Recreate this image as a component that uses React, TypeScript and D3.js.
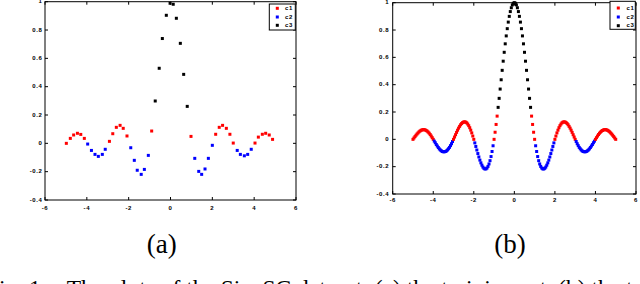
import React from 'react';
import * as d3 from 'd3';

const xTicks = [-6, -4, -2, 0, 2, 4, 6];
const xTickLabels = ['-6', '-4', '-2', '0', '2', '4', '6'];
const yTicks = [-0.4, -0.2, 0, 0.2, 0.4, 0.6, 0.8, 1];
const yTickLabels = ['-0.4', '-0.2', '0', '0.2', '0.4', '0.6', '0.8', '1'];
const classNames = ['c1', 'c2', 'c3'];
const classColors = ['#ff0000', '#0000ff', '#000000'];

// (a) training set
const xA = [-4.98, -4.79, -4.63, -4.45, -4.29, -4.12, -3.96, -3.78, -3.61, -3.45, -3.26, -3.12,
  -2.92, -2.76, -2.59, -2.41, -2.26, -2.08, -1.90, -1.73, -1.59, -1.40, -1.25, -1.06, -0.90,
  -0.73, -0.54, -0.39, -0.20, -0.02, 0.13, 0.28, 0.47, 0.63, 0.80,
  0.98, 1.16, 1.35, 1.49, 1.65, 1.81, 2.00, 2.16, 2.33, 2.49, 2.67, 2.84, 3.00,
  3.19, 3.34, 3.53, 3.69, 3.86, 4.04, 4.20, 4.39, 4.55, 4.72, 4.88];
const yA = [0.0, 0.035, 0.059, 0.071, 0.063, 0.035, -0.005, -0.05, -0.078, -0.092, -0.078, -0.042,
  0.014, 0.068, 0.113, 0.127, 0.106, 0.052, -0.031, -0.12, -0.19, -0.219, -0.184, -0.085, 0.087,
  0.299, 0.53, 0.74, 0.904, 0.989, 0.982, 0.883, 0.706, 0.487, 0.261,
  0.049, -0.106, -0.198, -0.219, -0.181, -0.106, -0.014, 0.064, 0.113, 0.127, 0.106, 0.064, 0.002,
  -0.05, -0.078, -0.088, -0.078, -0.042, 0.002, 0.044, 0.064, 0.071, 0.059, 0.028];

// (b) test set
const xB = [
  -5.00, -4.95, -4.90, -4.85, -4.80, -4.75, -4.70, -4.65, -4.60, -4.55, -4.50, -4.45, -4.40, -4.35, -4.30, -4.25, -4.20, -4.15, -4.10, -4.05,
  -4.00, -3.95, -3.90, -3.85, -3.80, -3.75, -3.70, -3.65, -3.60, -3.55, -3.50, -3.45, -3.40, -3.35, -3.30, -3.25, -3.20, -3.15, -3.10, -3.05,
  -3.00, -2.95, -2.90, -2.85, -2.80, -2.75, -2.70, -2.65, -2.60, -2.55, -2.50, -2.45, -2.40, -2.35, -2.30, -2.25, -2.20, -2.15, -2.10, -2.05,
  -2.00, -1.95, -1.90, -1.85, -1.80, -1.75, -1.70, -1.65, -1.60, -1.55, -1.50, -1.45, -1.40, -1.35, -1.30, -1.25, -1.20, -1.15, -1.10, -1.05,
  -1.00, -0.95, -0.90, -0.85, -0.80, -0.75, -0.70, -0.65, -0.60, -0.55, -0.50, -0.45, -0.40, -0.35, -0.30, -0.25, -0.20, -0.15, -0.10, -0.05,
  0.00,
  0.05, 0.10, 0.15, 0.20, 0.25, 0.30, 0.35, 0.40, 0.45, 0.50, 0.55, 0.60, 0.65, 0.70, 0.75, 0.80, 0.85, 0.90, 0.95, 1.00,
  1.05, 1.10, 1.15, 1.20, 1.25, 1.30, 1.35, 1.40, 1.45, 1.50, 1.55, 1.60, 1.65, 1.70, 1.75, 1.80, 1.85, 1.90, 1.95, 2.00,
  2.05, 2.10, 2.15, 2.20, 2.25, 2.30, 2.35, 2.40, 2.45, 2.50, 2.55, 2.60, 2.65, 2.70, 2.75, 2.80, 2.85, 2.90, 2.95, 3.00,
  3.05, 3.10, 3.15, 3.20, 3.25, 3.30, 3.35, 3.40, 3.45, 3.50, 3.55, 3.60, 3.65, 3.70, 3.75, 3.80, 3.85, 3.90, 3.95, 4.00,
  4.05, 4.10, 4.15, 4.20, 4.25, 4.30, 4.35, 4.40, 4.45, 4.50, 4.55, 4.60, 4.65, 4.70, 4.75, 4.80, 4.85, 4.90, 4.95, 5.00];
const yB = [
  0, 0.010, 0.020, 0.030, 0.039, 0.047, 0.055, 0.061, 0.066, 0.069, 0.071, 0.071, 0.069, 0.065, 0.060, 0.053, 0.045, 0.035, 0.024, 0.012,
  0, -0.013, -0.025, -0.038, -0.049, -0.060, -0.070, -0.078, -0.084, -0.089, -0.091, -0.091, -0.089, -0.085, -0.078, -0.069, -0.059, -0.046, -0.032, -0.016,
  0, 0.017, 0.034, 0.051, 0.067, 0.082, 0.095, 0.107, 0.116, 0.123, 0.127, 0.128, 0.126, 0.121, 0.112, 0.100, 0.085, 0.067, 0.047, 0.024,
  0, -0.026, -0.052, -0.078, -0.104, -0.129, -0.152, -0.172, -0.189, -0.203, -0.212, -0.217, -0.216, -0.210, -0.198, -0.180, -0.156, -0.126, -0.089, -0.047,
  0, 0.052, 0.109, 0.170, 0.234, 0.300, 0.368, 0.436, 0.505, 0.572, 0.637, 0.699, 0.757, 0.810, 0.858, 0.900, 0.935, 0.963, 0.984, 0.996,
  1,
  0.996, 0.984, 0.963, 0.935, 0.900, 0.858, 0.810, 0.757, 0.699, 0.637, 0.572, 0.505, 0.436, 0.368, 0.300, 0.234, 0.170, 0.109, 0.052, 0,
  -0.047, -0.089, -0.126, -0.156, -0.180, -0.198, -0.210, -0.216, -0.217, -0.212, -0.203, -0.189, -0.172, -0.152, -0.129, -0.104, -0.078, -0.052, -0.026, 0,
  0.024, 0.047, 0.067, 0.085, 0.100, 0.112, 0.121, 0.126, 0.128, 0.127, 0.123, 0.116, 0.107, 0.095, 0.082, 0.067, 0.051, 0.034, 0.017, 0,
  -0.016, -0.032, -0.046, -0.059, -0.069, -0.078, -0.085, -0.089, -0.091, -0.091, -0.089, -0.084, -0.078, -0.070, -0.060, -0.049, -0.038, -0.025, -0.013, 0,
  0.012, 0.024, 0.035, 0.045, 0.053, 0.060, 0.065, 0.069, 0.071, 0.071, 0.069, 0.066, 0.061, 0.055, 0.047, 0.039, 0.030, 0.020, 0.010, 0];

const classOf = (y: number) => (y < 0 ? 1 : y < 0.2 ? 0 : 2);

const tickFont = {
  fontFamily: 'Liberation Sans, Arial, sans-serif',
  fontSize: 6,
  fontWeight: 700 as const,
  letterSpacing: 0.6,
};

type PanelProps = {
  left: number; right: number; top: number; bottom: number;
  xs: number[]; ys: number[];
  xLabelDy: number; yLabelGap: number;
  legend: { x: number; y: number; w: number; h: number; mx: number; rows: number[]; tx: number };
};

function Panel({ left, right, top, bottom, xs, ys, xLabelDy, yLabelGap, legend }: PanelProps) {
  const x = d3.scaleLinear().domain([-6, 6]).range([left, right]);
  const y = d3.scaleLinear().domain([-0.4, 1]).range([bottom, top]);
  const tl = 3;
  const m = 3;
  return (
    <g>
      {xs.map((xv, i) => {
        const c = classOf(ys[i]);
        return (
          <rect key={i} x={x(xv) - m / 2} y={y(ys[i]) - m / 2} width={m} height={m}
            fill={classColors[c]} />
        );
      })}
      <rect x={left} y={top} width={right - left} height={bottom - top}
        fill="none" stroke="#000" strokeWidth={1} />
      {xTicks.map((t, i) => (
        <g key={'xt' + i}>
          <line x1={x(t)} x2={x(t)} y1={bottom} y2={bottom - tl} stroke="#000" />
          <line x1={x(t)} x2={x(t)} y1={top} y2={top + tl} stroke="#000" />
          <text x={x(t)} y={bottom + xLabelDy} textAnchor="middle" dominantBaseline="middle" style={tickFont}>
            {xTickLabels[i]}
          </text>
        </g>
      ))}
      {yTicks.map((t, i) => (
        <g key={'yt' + i}>
          <line x1={left} x2={left + tl} y1={y(t)} y2={y(t)} stroke="#000" />
          <line x1={right} x2={right - tl} y1={y(t)} y2={y(t)} stroke="#000" />
          <text x={left - yLabelGap} y={y(t)} textAnchor="end" dominantBaseline="middle" style={tickFont}>
            {yTickLabels[i]}
          </text>
        </g>
      ))}
      <rect x={legend.x} y={legend.y} width={legend.w} height={legend.h} fill="#fff" stroke="#000" strokeWidth={1} />
      {classNames.map((n, i) => (
        <g key={'lg' + i}>
          <rect x={legend.mx - 1.5} y={legend.rows[i] - 1.5} width={3} height={3} fill={classColors[i]} />
          <text x={legend.tx} y={legend.rows[i]} dominantBaseline="middle" style={tickFont}>{n}</text>
        </g>
      ))}
    </g>
  );
}

export default function App() {
  return (
    <svg width={640} height={284} style={{ position: 'absolute', left: 0, top: 0, background: '#fff' }}>
      <rect x={0} y={0} width={640} height={284} fill="#fff" />
      <Panel left={45} right={296} top={1.7} bottom={200} xs={xA} ys={yA}
        xLabelDy={8} yLabelGap={2.5}
        legend={{ x: 269.3, y: 4, w: 26, h: 26, mx: 277.3, rows: [8.3, 17, 25.3], tx: 285 }} />
      <Panel left={392.7} right={636} top={2.7} bottom={194} xs={xB} ys={yB}
        xLabelDy={6} yLabelGap={3.5}
        legend={{ x: 610, y: 1.3, w: 25.3, h: 28, mx: 618.3, rows: [8, 17, 25.7], tx: 626.5 }} />
      <text x={161.7} y={253.3} textAnchor="middle" style={{ fontFamily: 'Liberation Serif, serif', fontSize: 27 }}>(a)</text>
      <text x={510} y={253.3} textAnchor="middle" style={{ fontFamily: 'Liberation Serif, serif', fontSize: 27 }}>(b)</text>
      <text x={-14} y={295.5} style={{ fontFamily: 'Liberation Serif, serif', fontSize: 23.5 }}>Fig. 1.</text>
      <text x={66.7} y={295.5} style={{ fontFamily: 'Liberation Serif, serif', fontSize: 23.5 }}>
        The plots of the SincSC dataset: (a) the training set, (b) the test set.
      </text>
    </svg>
  );
}
